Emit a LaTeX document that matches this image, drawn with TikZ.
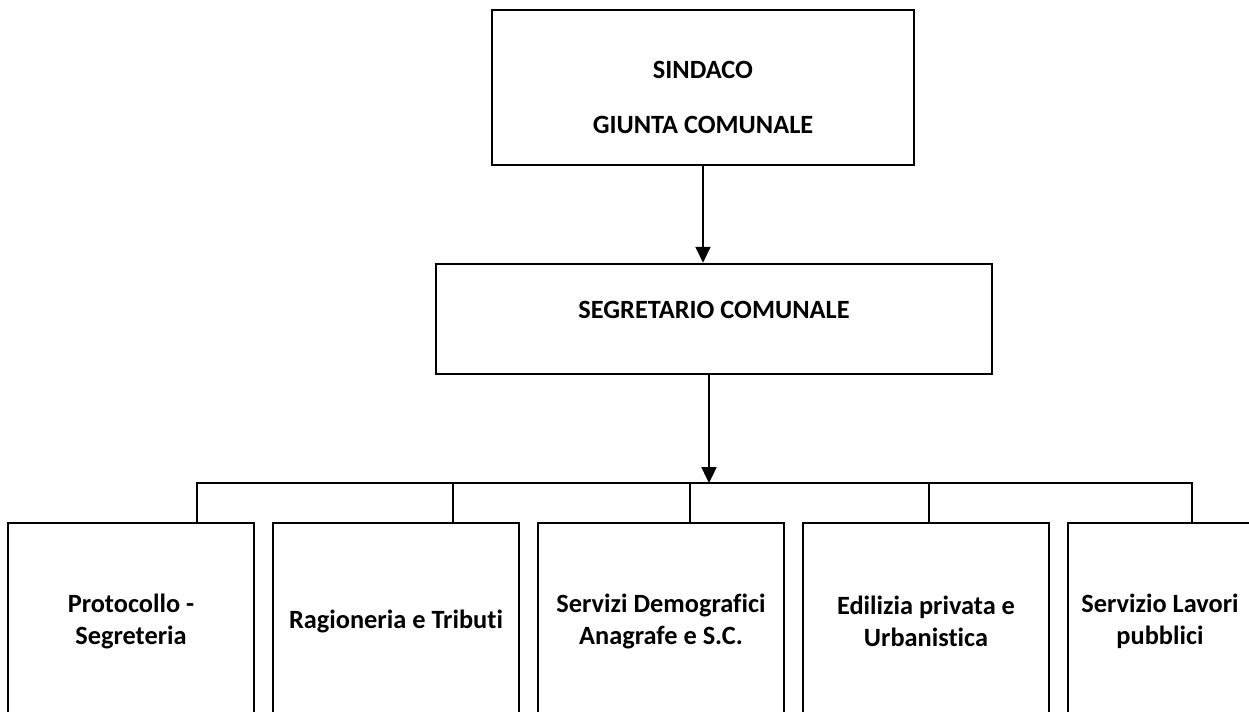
\documentclass[tikz,border=0pt]{standalone}
\usepackage{fontspec}
\setmainfont{Carlito}[Ligatures=NoCommon]
\usetikzlibrary{arrows.meta,positioning,calc}

\tikzset{
  ufficio/.style={draw, line width=1.5pt, minimum width=4.92cm, minimum height=3.92cm, inner sep=0pt},
  testo/.style={font=\bfseries\fontsize{15}{18.2}\selectfont, align=center},
  freccia/.style={-{Triangle[width=8.5pt,length=9pt]}, line width=1.1pt},
  linea/.style={line width=1.4pt}
}

\begin{document}
\begin{tikzpicture}[x=0.02cm, y=-0.02cm]
        \clip (0,0) rectangle (1249,711);
        % vertice
        \node[draw, line width=1.5pt, minimum width=8.44cm, minimum height=3.1cm] (sindaco) at (703,87.5){};
        \node[testo] (sindacot) at (703,70){SINDACO};
        \node[testo] (giunta) at (703,125){GIUNTA COMUNALE};
        \node[draw, line width=1.5pt, minimum width=11.12cm, minimum height=2.2cm] (segretario) at (714,319){};
        \node[testo] (segretariot) at (714,310){SEGRETARIO COMUNALE};
        % uffici
        \node[ufficio,testo] (uff1) at (131,621){Protocollo -\\Segreteria};
        \node[ufficio,testo] (uff2) at (396,621){Ragioneria e Tributi};
        \node[ufficio,testo] (uff3) at (661,621){Servizi Demografici\\Anagrafe e S.C.};
        \node[ufficio,testo] (uff4) at (926,621){Edilizia privata e\\Urbanistica};
        \node[ufficio,testo,minimum width=3.68cm] (uff5) at (1160,621){Servizio Lavori\\pubblici};
        % collegamenti
        \coordinate (t1) at (197,483);
        \coordinate (t2) at (453,483);
        \coordinate (t3) at (690,483);
        \coordinate (t4) at (929,483);
        \coordinate (t5) at (1192,483);
        \coordinate (snodo) at (709,483);
        \draw[freccia] (sindaco.south) -- (sindaco.south |- segretario.north);
        \draw[freccia] (segretario.south -| snodo) -- (snodo);
        \draw[linea] (uff1.north -| t1) -- (t1) -- (t5) -- (uff5.north -| t5);
        \draw[linea] (t2) -- (uff2.north -| t2);
        \draw[linea] (t3) -- (uff3.north -| t3);
        \draw[linea] (t4) -- (uff4.north -| t4);
\end{tikzpicture}
\end{document}
